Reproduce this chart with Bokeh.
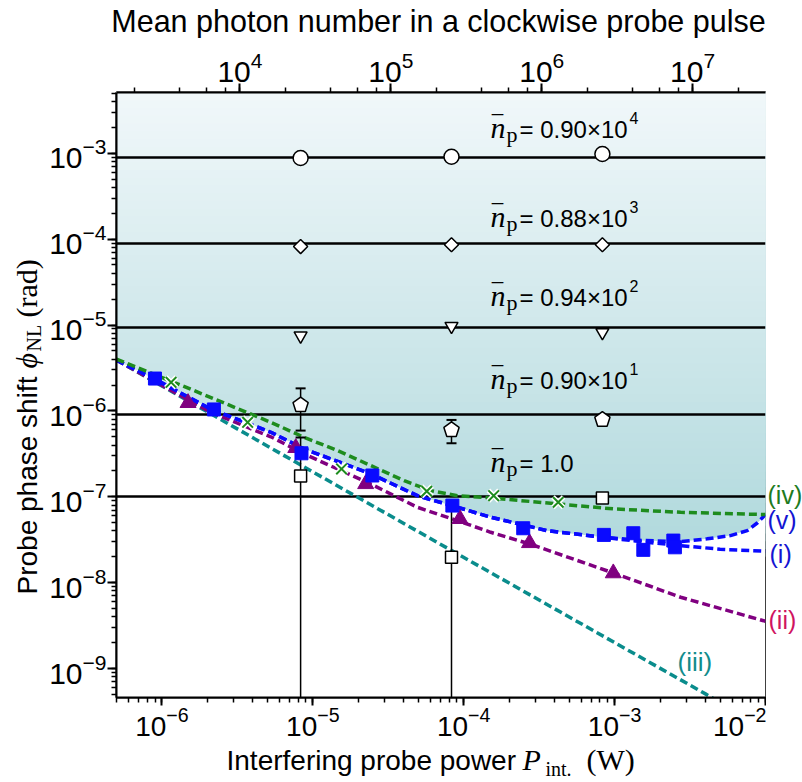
import math
import numpy as np
from bokeh.plotting import figure
from bokeh.layouts import column, row
from bokeh.models import Range1d, LogAxis, LogScale, Label
from bokeh.embed import file_html
from bokeh.resources import INLINE

# ---------------- data ----------------
x_min, x_max = 5e-7, 1e-2          # interfering probe power (W)
y_min, y_max = 4.6e-10, 5.1e-3     # phase shift (rad)
photons_per_watt = 3.04e9          # mean photon number per W (top axis)

# horizontal levels  (n_p x 1e-7 rad)
level_phi = [9.0e-4, 8.8e-5, 9.4e-6, 9.0e-7, 1.0e-7]
level_text = ["= 0.90\u00d710", "= 0.88\u00d710", "= 0.94\u00d710", "= 0.90\u00d710", "= 1.0"]
level_exp = ["4", "3", "2", "1", ""]

# dashed curves
i_P = [5e-7, 8.9e-7, 2.11e-6, 5.27e-6, 8.75e-6, 2.42e-5, 4.93e-5, 9.08e-5, 1.5e-4,
       3.58e-4, 8.49e-4, 1.5e-3, 2.74e-3, 5e-3, 1e-2]
i_phi = [3.9e-6, 2.36e-6, 1.05e-6, 5.64e-7, 3.61e-7, 1.85e-7, 1.03e-7, 7.55e-8, 5.8e-8,
         4.03e-8, 3.37e-8, 3.0e-8, 2.7e-8, 2.45e-8, 2.32e-8]
v_P = [5e-7, 8.9e-7, 2.11e-6, 5.27e-6, 8.75e-6, 2.42e-5, 4.93e-5, 9.08e-5, 1.5e-4,
       3.58e-4, 8.49e-4, 1.5e-3, 2.74e-3, 4.11e-3, 5.86e-3, 7.57e-3, 8.81e-3, 1e-2]
v_phi = [3.9e-6, 2.36e-6, 1.05e-6, 5.64e-7, 3.61e-7, 1.85e-7, 1.03e-7, 7.55e-8, 5.8e-8,
         4.03e-8, 3.37e-8, 3.1e-8, 3.0e-8, 3.24e-8, 3.53e-8, 4.04e-8, 4.95e-8, 6.2e-8]
iv_P = [5e-7, 1.27e-6, 5.27e-6, 8.75e-6, 1.46e-5, 2.42e-5, 4.03e-5, 6.04e-5, 9.08e-5,
        1.36e-4, 4.17e-4, 9.9e-4, 2.74e-3, 1e-2]
iv_phi = [4.0e-6, 2.07e-6, 7.36e-7, 4.93e-7, 3.45e-7, 2.31e-7, 1.54e-7, 1.18e-7, 1.03e-7,
          9.87e-8, 8.26e-8, 7.22e-8, 6.6e-8, 6.2e-8]
ii_P = [5e-7, 2.11e-6, 5.27e-6, 8.75e-6, 2.42e-5, 4.93e-5, 9.08e-5, 1.51e-4, 2.73e-4,
        9.9e-4, 2.74e-3, 1e-2]
ii_phi = [3.9e-6, 9.6e-7, 5.0e-7, 3.16e-7, 1.41e-7, 7.55e-8, 5.27e-8, 3.86e-8, 2.83e-8,
          1.29e-8, 6.76e-9, 3.55e-9]
iii_P = [5e-7, 1e-5, 1.36e-4, 4.0e-3, 1e-2]
iii_phi = [3.9e-6, 1.95e-7, 1.45e-8, 5.07e-10, 2.0e-10]

# measured points
sq_P = [8.99e-7, 2.21e-6, 8.41e-6, 2.48e-5, 8.41e-5, 2.48e-4, 8.49e-4, 1.33e-3, 1.55e-3, 2.45e-3, 2.51e-3]
sq_phi = [2.38e-6, 1.04e-6, 3.21e-7, 1.77e-7, 7.9e-8, 4.3e-8, 3.6e-8, 3.76e-8, 2.41e-8, 3.09e-8, 2.58e-8]
tri_P = [1.49e-6, 7.71e-6, 2.24e-5, 9.44e-5, 2.73e-4, 9.8e-4]
tri_phi = [1.24e-6, 3.71e-7, 1.41e-7, 5.53e-8, 2.9e-8, 1.29e-8]
cross_P = [1.15e-6, 3.7e-6, 1.55e-5, 5.69e-5, 1.58e-4, 4.23e-4]
cross_phi = [2.15e-6, 7.36e-7, 2.11e-7, 1.16e-7, 1.03e-7, 8.63e-8]

meas_P = [8.3e-6, 8.3e-5, 8.3e-4]
circ_phi = [8.8e-4, 9.1e-4, 9.8e-4]
diam_phi = [8.2e-5, 8.6e-5, 8.6e-5]
dtri_phi = [7.5e-6, 9.7e-6, 8.2e-6]
pent_phi = [1.17e-6, 6.0e-7, 7.9e-7]
osq_phi = [1.75e-7, 1.98e-8, 9.7e-8]

pent_err_P = [8.3e-6, 8.3e-5]
pent_err_lo = [5.9e-7, 4.2e-7]
pent_err_hi = [1.83e-6, 7.85e-7]
osq_err_P = [8.3e-6, 8.3e-5]
osq_err_lo = [1e-14, 1e-14]
osq_err_hi = [4.9e-7, 8.05e-8]

# ---------------- layout geometry (page pixels) ----------------
W, H = 802, 782
FL, FT, FW, FH = 116, 92, 649, 605       # plot frame
TOP_H, BOT_H, LEFT_W, RIGHT_W = 38, 40, 45, 36
MID_H = H - TOP_H - BOT_H
SHIFT = 0.33                              # baseline correction (fraction of font size)

LX = math.log10(x_max / x_min)
LY = math.log10(y_max / y_min)
def px2x(px):
    return 10 ** (math.log10(x_min) + (px - FL) / FW * LX)
def py2y(py):
    return 10 ** (math.log10(y_max) - (py - FT) / FH * LY)

# ---------------- main figure ----------------
y_rng = Range1d(y_min, y_max)
p = figure(x_axis_type="log", y_axis_type="log",
           x_range=Range1d(x_min, x_max), y_range=y_rng,
           frame_width=FW, frame_height=FH,
           min_border_left=FL - LEFT_W, min_border_right=1,
           min_border_top=FT - TOP_H, min_border_bottom=MID_H - (FT - TOP_H) - FH,
           output_backend="svg", toolbar_location=None,
           background_fill_color="white", border_fill_color="white")
p.grid.visible = False
p.outline_line_color = "black"
p.outline_line_width = 2

p.extra_x_ranges = {"photon": Range1d(x_min * photons_per_watt, x_max * photons_per_watt)}
p.extra_x_scales = {"photon": LogScale()}
top = LogAxis(x_range_name="photon")
p.add_layout(top, "above")

for ax in p.axis:
    ax.major_label_text_font = "Liberation Sans"
    ax.major_label_text_font_size = "30px"
    ax.major_label_text_color = "black"
    ax.major_tick_out = 9
    ax.major_tick_in = 0
    ax.minor_tick_out = 5
    ax.minor_tick_in = 0
    ax.major_tick_line_width = 2
    ax.minor_tick_line_width = 1.5
    ax.axis_line_width = 2
    ax.major_label_standoff = 2
    ax.axis_label = None
bx = p.below[0]
bx.major_label_text_font_size = "28px"
bx.major_tick_out = 8
bx.major_label_standoff = 1
p.left[0].major_label_standoff = 1

# ---- shaded region (vertical gradient above curve v) ----
n_bands = 60
edges = np.logspace(np.log10(2e-8), np.log10(y_max), n_bands + 1)
c_bot = np.array([176, 217, 221])
c_top = np.array([241, 248, 250])
cols = []
for k in range(n_bands):
    f = k / (n_bands - 1)
    c = (c_bot + f * (c_top - c_bot)).astype(int)
    cols.append("#%02x%02x%02x" % tuple(c))
p.quad(left=[x_min] * n_bands, right=[x_max] * n_bands, bottom=edges[:-1],
       top=[y_max] * n_bands, fill_color=cols, line_color=None)
p.varea(x=v_P, y1=[y_min] * len(v_P), y2=v_phi, fill_color="white")

# ---- horizontal levels ----
p.hspan(y=level_phi, line_color="black", line_width=2.5)

# ---- dashed curves ----
dash = "8 4"
lw = 3.5
p.line(iii_P, iii_phi, line_color="#0a8c8c", line_width=lw, line_dash=dash)
p.line(ii_P, ii_phi, line_color="#800080", line_width=lw, line_dash=dash)
p.line(i_P, i_phi, line_color="#0a0aff", line_width=lw, line_dash=dash)
p.line(v_P, v_phi, line_color="#0a0aff", line_width=lw, line_dash=dash)
p.line(iv_P, iv_phi, line_color="#1e8c1e", line_width=lw, line_dash=dash)

# ---- error bars ----
p.segment(x0=pent_err_P, y0=pent_err_lo, x1=pent_err_P, y1=pent_err_hi, line_color="black", line_width=1.5)
p.scatter(pent_err_P, pent_err_lo, marker="dash", size=10, line_color="black", line_width=2)
p.scatter(pent_err_P, pent_err_hi, marker="dash", size=10, line_color="black", line_width=2)
p.segment(x0=osq_err_P, y0=osq_err_lo, x1=osq_err_P, y1=osq_err_hi, line_color="black", line_width=1.5)
p.scatter(osq_err_P, osq_err_hi, marker="dash", size=10, line_color="black", line_width=2)

# ---- filled markers ----
p.scatter(tri_P, tri_phi, marker="triangle", size=16, fill_color="#800080", line_color="#800080")
p.scatter(sq_P, sq_phi, marker="square", size=13, fill_color="#0a0aff", line_color="#0a0aff")
p.scatter(cross_P, cross_phi, marker="x", size=15, line_color="white", line_width=5)
p.scatter(cross_P, cross_phi, marker="x", size=15, line_color="#1e8c1e", line_width=2)

# ---- open markers ----
ow = dict(fill_color="white", line_color="black", line_width=1.5)
p.scatter(meas_P, circ_phi, marker="circle", size=15, **ow)
p.scatter(meas_P, diam_phi, marker="square", angle=math.pi / 4, size=10, **ow)
p.scatter(meas_P, dtri_phi, marker="inverted_triangle", size=13, **ow)
p.scatter(meas_P, osq_phi, marker="square", size=12, **ow)
ppd_x = FW / LX
ppd_y = FH / LY
r = 8.0
pxs, pys = [], []
for P, ph in zip(meas_P, pent_phi):
    xs, ys = [], []
    for k in range(5):
        th = math.pi / 2 + k * 2 * math.pi / 5
        xs.append(P * 10 ** (r * math.cos(th) / ppd_x))
        ys.append(ph * 10 ** (r * math.sin(th) / ppd_y))
    pxs.append(xs)
    pys.append(ys)
p.patches(pxs, pys, **ow)

def mk_label(fig_x, fig_y, text, font="Liberation Sans", size=24, style="normal",
             color="black", align="left", angle=0.0):
    return Label(x=fig_x, y=fig_y, text=text, text_font=font,
                 text_font_size=f"{size}px", text_font_style=style, text_color=color,
                 text_align=align, text_baseline="alphabetic", angle=angle)

def lab(px, py, text, size=24, **kw):
    p.add_layout(mk_label(px2x(px), py2y(py - SHIFT * size), text, size=size, **kw))

baselines = [137, 226, 305, 388, 471]
for b, t, e in zip(baselines, level_text, level_exp):
    lab(490, b, "n", font="Liberation Serif", size=30, style="italic")
    lab(492, b, "\u203e", font="Liberation Serif", size=30)
    lab(506, b + 4, "p", font="Liberation Serif", size=22)
    lab(519, b, t, size=24)
    if e:
        lab(629, b - 14, e, size=16)
lab(677, 670, "(iii)", size=26, color="#128c8c")

# ---------------- text panels ----------------
def text_fig(w, h):
    f = figure(x_range=Range1d(0, w), y_range=Range1d(0, h), frame_width=w, frame_height=h,
               min_border_left=0, min_border_right=0, min_border_top=0, min_border_bottom=0,
               x_axis_location=None, y_axis_location=None, output_backend="svg",
               toolbar_location=None, outline_line_color=None,
               background_fill_color="white", border_fill_color="white")
    f.grid.visible = False
    return f

# top title
T = text_fig(W, TOP_H)
tsz = 30.5
T.add_layout(mk_label(438, TOP_H - (31 - SHIFT * tsz), "Mean photon number in a clockwise probe pulse",
                      size=tsz, align="center"))

# bottom title
B = text_fig(W, BOT_H)
def blab(px, py, text, size=28, **kw):
    B.add_layout(mk_label(px, H - (py - SHIFT * size), text, size=size, **kw))
blab(226, 769, "Interfering probe power", size=28)
blab(522, 769, "P", font="Liberation Serif", size=30, style="italic")
blab(545, 775, "int.", font="Liberation Serif", size=20)
blab(586, 769, "(W)", font="Liberation Serif", size=30)

# left (rotated) title
L = text_fig(LEFT_W, MID_H)
def llab(px, py, text, size=28, **kw):
    L.add_layout(mk_label(px - SHIFT * size, MID_H - (py - TOP_H), text, size=size,
                          angle=math.pi / 2, **kw))
llab(36, 540, "Probe phase shift", size=28)
llab(36, 314, "\u03d5", font="Liberation Serif", size=30, style="italic")
llab(40.5, 297, "NL", font="Liberation Serif", size=20)
llab(36, 263, "(rad)", font="Liberation Serif", size=30)

# right curve labels (share the y scale of the plot)
R = figure(x_range=Range1d(0, RIGHT_W), y_range=y_rng, y_axis_type="log",
           frame_width=RIGHT_W, frame_height=FH,
           min_border_left=0, min_border_right=0,
           min_border_top=FT - TOP_H, min_border_bottom=MID_H - (FT - TOP_H) - FH,
           x_axis_location=None, y_axis_location=None, output_backend="svg",
           toolbar_location=None, outline_line_color=None,
           background_fill_color="white", border_fill_color="white")
R.grid.visible = False
R0 = W - RIGHT_W
def rlab(px, py, text, size=25, **kw):
    R.add_layout(mk_label(px - R0, py2y(py - SHIFT * size), text, size=size, **kw))
rlab(767, 503, "(iv)", color="#1e7b1e")
rlab(767, 528, "(v)", color="#1414d2")
rlab(769, 562, "(i)", color="#1414d2")
rlab(768, 628, "(ii)", color="#d0145f")

layout = column(T, row(L, p, R, spacing=0), B, spacing=0)
open("out.html", "w").write(file_html(layout, INLINE))
